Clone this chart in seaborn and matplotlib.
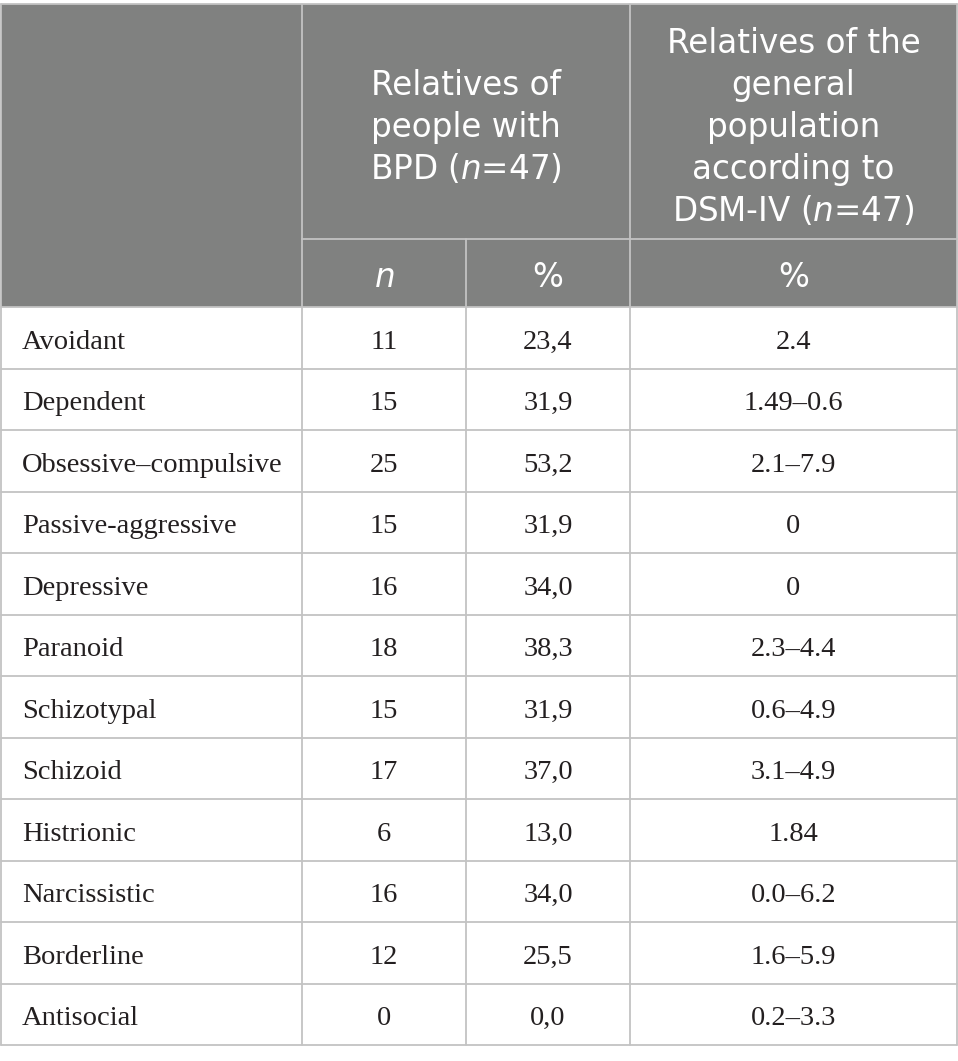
import matplotlib
matplotlib.use("Agg")
import matplotlib.pyplot as plt
from matplotlib.patches import Rectangle
import seaborn as sns

# Table contents
disorders = ["Avoidant", "Dependent", "Obsessive\u2013compulsive", "Passive-aggressive",
             "Depressive", "Paranoid", "Schizotypal", "Schizoid", "Histrionic",
             "Narcissistic", "Borderline", "Antisocial"]
n_bpd = ["11", "15", "25", "15", "16", "18", "15", "17", "6", "16", "12", "0"]
pct_bpd = ["23,4", "31,9", "53,2", "31,9", "34,0", "38,3", "31,9", "37,0", "13,0",
           "34,0", "25,5", "0,0"]
pct_general = ["2.4", "1.49\u20130.6", "2.1\u20137.9", "0", "0", "2.3\u20134.4",
               "0.6\u20134.9", "3.1\u20134.9", "1.84", "0.0\u20136.2", "1.6\u20135.9",
               "0.2\u20133.3"]
header_bpd = ["Relatives of", "people with", "BPD ($n$=47)"]
header_gen = ["Relatives of the", "general", "population", "according to",
              "DSM-IV ($n$=47)"]
sub_headers = ["$n$", "%", "%"]

sns.set_theme(style="white")
plt.rcParams['font.family'] = ['DejaVu Sans']
plt.rcParams['mathtext.fontset'] = 'dejavusans'

W, H = 958, 1061
fig = plt.figure(figsize=(W / 100, H / 100), dpi=100)
ax = fig.add_axes([0, 0, 1, 1])
ax.set_xlim(0, W)
ax.set_ylim(H, 0)
ax.axis("off")

# layout (pixels)
col_x = [1, 302, 466, 630, 957]
top, h1, h2 = 4, 239, 307
row_h = (1045 - h2) / len(disorders)
head_bg = "#808180"
line_c = "#c3c3c3"
lw = 1.3

ax.add_patch(Rectangle((col_x[0], top), col_x[-1] - col_x[0], h2 - top,
                       facecolor=head_bg, edgecolor="none"))

hfont = dict(family="DejaVu Sans", color="white", fontsize=23.5, ha="center",
             va="baseline")
step = 42
for lines, xc in [(header_bpd, (col_x[1] + col_x[3]) / 2),
                  (header_gen, (col_x[3] + col_x[4]) / 2)]:
    for k, s in enumerate(lines):
        ax.text(xc, 137 + (k - (len(lines) - 1) / 2) * step, s, **hfont)
for i, s in enumerate(sub_headers):
    ax.text((col_x[i + 1] + col_x[i + 2]) / 2, 287, s, **hfont)

bfont = dict(family="Liberation Serif", color="#231f20", fontsize=20.5, va="baseline")
for i, name in enumerate(disorders):
    yb = h2 + (i + 0.5) * row_h + 11
    ax.text(22, yb, name, ha="left", **bfont)
    ax.text((col_x[1] + col_x[2]) / 2, yb, n_bpd[i], ha="center", **bfont)
    ax.text((col_x[2] + col_x[3]) / 2, yb, pct_bpd[i], ha="center", **bfont)
    ax.text((col_x[3] + col_x[4]) / 2, yb, pct_general[i], ha="center", **bfont)

# grid lines
for i in range(len(disorders) + 1):
    y = h2 + i * row_h
    ax.plot([col_x[0], col_x[-1]], [y, y], color=line_c, lw=lw)
ax.plot([col_x[0], col_x[-1]], [top, top], color=line_c, lw=lw)
ax.plot([col_x[1], col_x[-1]], [h1, h1], color=line_c, lw=lw)
for x in [col_x[0], col_x[1], col_x[3], col_x[-1]]:
    ax.plot([x, x], [top, 1045], color=line_c, lw=lw)
ax.plot([col_x[2], col_x[2]], [h1, 1045], color=line_c, lw=lw)

fig.savefig("out.png", dpi=100, facecolor="white")
